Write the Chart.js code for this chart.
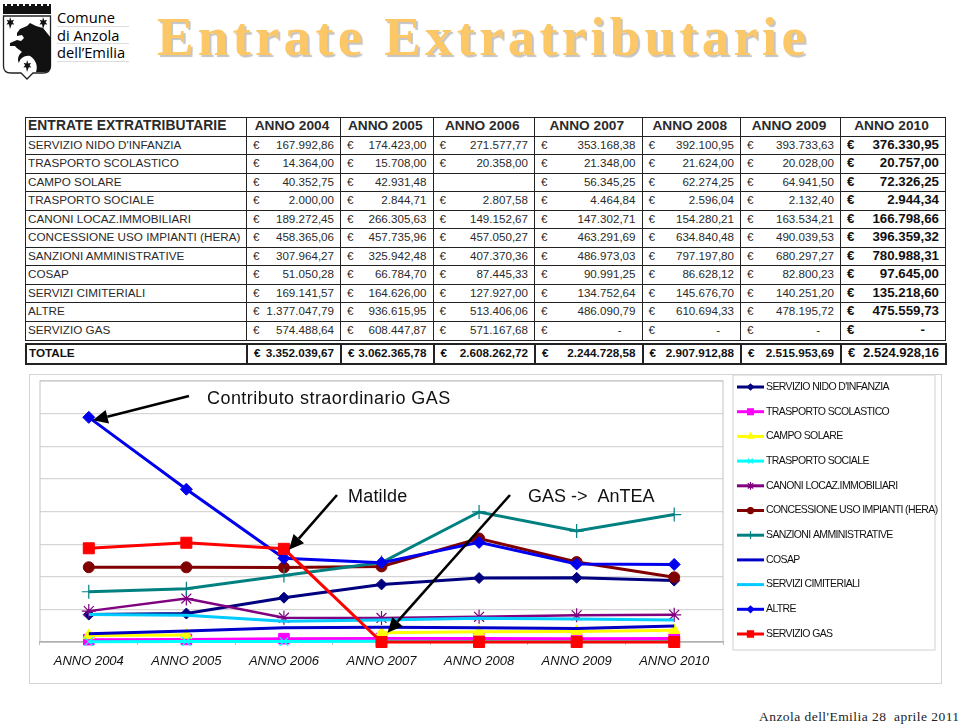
<!DOCTYPE html>
<html>
<head>
<meta charset="utf-8">
<title>Entrate Extratributarie</title>
<script src="https://cdn.jsdelivr.net/npm/chart.js@4/dist/chart.umd.js"></script>
<style>
  html, body { margin: 0; padding: 0; background: #fff; width: 960px; height: 726px; overflow: hidden; }
  body { position: relative; font-family: "Liberation Sans", Arial, sans-serif; color: #2a2a2a; }
  #logo { position: absolute; left: 0; top: 0; }
  #logoText { position: absolute; left: 57px; top: 9px; width: 72px; font: 500 14.7px/17px "Open Sans", "Noto Sans", sans-serif; color: #000; }
  #logoText div { border-bottom: 1px solid #ddd; height: 16.5px; white-space: nowrap; }
  #title { position: absolute; left: 157px; top: 5px; font: bold 55px "Liberation Serif", serif; letter-spacing: 4.15px; color: #fcc766; text-shadow: 2px 2px 1px #c4c4c4; white-space: nowrap; }
  table { position: absolute; left: 25px; width: 920px; table-layout: fixed; border-collapse: collapse; }
  #tab { top: 117px; }
  #tot { top: 343px; }
  td { border: 1.5px solid #222; padding: 0 6px 1.5px 3px; font-size: 11.6px; height: 18.55px; line-height: 16px; white-space: nowrap; overflow: hidden; text-align: right; box-sizing: border-box; }
  td:first-child { text-align: left; padding-left: 2px; font-size: 11.7px; }
  tr.head td { font-weight: bold; font-size: 13.7px; text-align: center; height: 18px; }
  tr.head td:first-child { text-align: left; font-size: 13.8px; letter-spacing: .1px; }
  td.y10 { font-weight: bold; font-size: 13.3px; color: #111; }
  td .e { float: left; padding-left: 3px; }
  td .dash { padding-right: 14px; }
  #tot td { font-weight: bold; font-size: 11.7px; height: 20px; border-width: 2px; color: #111; }
  #tot td.y10 { font-size: 13px; }
  #chartBox { position: absolute; left: 30px; top: 375px; width: 911px; height: 308px; outline: 1.5px solid #d4d4d4; }
  #foot { position: absolute; left: 759px; top: 709px; font: 13.5px "Liberation Serif", serif; letter-spacing: .45px; white-space: pre; color: #222; }
</style>
</head>
<body>

<svg id="logo" width="56" height="84" viewBox="0 0 56 84">
  <path d="M3 4h48v10H3z" fill="#111"/>
  <path d="M5 4h2v2H5zM11 4h2v2h-2zM17 4h2v2h-2zM23 4h2v2h-2zM29 4h2v2h-2zM35 4h2v2h-2zM41 4h2v2h-2zM47 4h2v2h-2z" fill="#fff"/>
  <path d="M3.5 16H50.5V66Q50.5 73 43 73H33L27 79L21 73H11Q3.5 73 3.5 66Z" fill="#fff" stroke="#222" stroke-width="1.3"/>
  <path d="M17 33L20 29L27 26L30 23L36 26L43 28L51 38V66Q50 72 45 72H36C38 66 36 60 30 56C25 55 20 58 19 63C17 60 18 55 22 52C20 50 16 48 15 46L10 46L10 43L17 40L21 41L24 38L22 35L17 36Z" fill="#111"/>
  <path d="M10 17l1.3 3.6 2.8-.8-1.5 2.5 1.7 2.1-2.6-.2L10 29l-1-4.8-2.6.2 1.7-2.1-1.5-2.5 2.8.8zM43 17l1.3 3.6 2.8-.8-1.5 2.5 1.7 2.1-2.6-.2L43 29l-1-4.8-2.6.2 1.7-2.1-1.5-2.5 2.8.8zM27 60l1.3 3.6 2.8-.8-1.5 2.5 1.7 2.1-2.6-.2L27 72l-1-4.8-2.6.2 1.7-2.1-1.5-2.5 2.8.8z" fill="#111"/>
</svg>
<div id="logoText"><div>Comune</div><div>di Anzola</div><div>dell’Emilia</div></div>

<div id="title">Entrate Extratributarie</div>

<table id="tab"></table>
<table id="tot"></table>

<div id="chartBox"><canvas id="myChart" width="911" height="308"></canvas></div>

<div id="foot">Anzola dell'Emilia 28  aprile 2011</div>

<script>
// data
const years = ['ANNO 2004', 'ANNO 2005', 'ANNO 2006', 'ANNO 2007', 'ANNO 2008', 'ANNO 2009', 'ANNO 2010'];

const nido = [167992.86, 174423.00, 271577.77, 353168.38, 392100.95, 393733.63, 376330.95];
const trasportoScol = [14364.00, 15708.00, 20358.00, 21348.00, 21624.00, 20028.00, 20757.00];
const campoSolare = [40352.75, 42931.48, null, 56345.25, 62274.25, 64941.50, 72326.25];
const trasportoSoc = [2000.00, 2844.71, 2807.58, 4464.84, 2596.04, 2132.40, 2944.34];
const canoni = [189272.45, 266305.63, 149152.67, 147302.71, 154280.21, 163534.21, 166798.66];
const concessione = [458365.06, 457735.96, 457050.27, 463291.69, 634840.48, 490039.53, 396359.32];
const sanzioni = [307964.27, 325942.48, 407370.36, 486973.03, 797197.80, 680297.27, 780988.31];
const cosap = [51050.28, 66784.70, 87445.33, 90991.25, 86628.12, 82800.23, 97645.00];
const cimiteriali = [169141.57, 164626.00, 127927.00, 134752.64, 145676.70, 140251.20, 135218.60];
const altre = [1377047.79, 936615.95, 513406.06, 486090.79, 610694.33, 478195.72, 475559.73];
const gas = [574488.64, 608447.87, 571167.68, 0, 0, 0, 0];
const totale = [3352039.67, 3062365.78, 2608262.72, 2244728.58, 2907912.88, 2515953.69, 2524928.16];

const seriesNames = ["SERVIZIO NIDO D'INFANZIA", 'TRASPORTO SCOLASTICO', 'CAMPO SOLARE', 'TRASPORTO SOCIALE',
  'CANONI LOCAZ.IMMOBILIARI', 'CONCESSIONE USO IMPIANTI (HERA)', 'SANZIONI AMMINISTRATIVE', 'COSAP',
  'SERVIZI CIMITERIALI', 'ALTRE', 'SERVIZIO GAS'];
const rows = [nido, trasportoScol, campoSolare, trasportoSoc, canoni, concessione, sanzioni, cosap, cimiteriali, altre, gas];

const lineColors = ['#000080', '#ff00ff', '#ffff00', '#00ffff', '#800080', '#800000', '#008080', '#0000c8', '#00ccff', '#0000ee', '#ff0000'];
const pointShapes = ['rectRot', 'rect', 'triangle', 'crossRot', 'star', 'circle', 'cross', 'circle', 'circle', 'rectRot', 'rect'];
const pointSizes = [5.5, 7.5, 6.5, 6, 7, 5.5, 7, 0, 0, 6, 7.8];
const lineWidths = [3, 3, 3, 3, 2.5, 3, 3, 3, 3, 3, 3];

// table
const colWidths = [221, 94, 92.5, 101.5, 107.5, 98.5, 100, 105];

function fmt(v) {
  if (v === 0) return '<span class="dash">-</span>';
  return v.toLocaleString('de-DE', { minimumFractionDigits: 2, maximumFractionDigits: 2 });
}
function cell(v, cls) {
  if (v === null) return '<td' + cls + '></td>';
  return '<td' + cls + '><span class="e">€</span>' + fmt(v) + '</td>';
}
function colgroup() {
  return '<colgroup>' + colWidths.map(w => '<col style="width:' + w + 'px">').join('') + '</colgroup>';
}

let html = colgroup() + '<tr class="head"><td>ENTRATE EXTRATRIBUTARIE</td>' + years.map(y => '<td>' + y + '</td>').join('') + '</tr>';
rows.forEach((r, i) => {
  html += '<tr><td>' + seriesNames[i] + '</td>' + r.map((v, j) => cell(v, j === 6 ? ' class="y10"' : '')).join('') + '</tr>';
});
document.getElementById('tab').innerHTML = html;
document.getElementById('tot').innerHTML = colgroup() + '<tr><td>TOTALE</td>' + totale.map((v, j) => cell(v, j === 6 ? ' class="y10"' : '')).join('') + '</tr>';

// annotations, canvas coordinates for text and arrow tails, arrow tips follow the data
const noteTexts = [
  { text: 'Contributo straordinario GAS', x: 177, y: 29, sp: '0.45px' },
  { text: 'Matilde', x: 318, y: 127, sp: '0.2px' },
  { text: 'GAS ->  AnTEA', x: 498, y: 127, sp: '0px' }
];
const noteArrows = [
  { from: [159, 21], cat: 0, val: altre[0], dx: 4, dy: 3 },
  { from: [307, 120], cat: 2, val: gas[2], dx: 5, dy: 1 },
  { from: [480, 120], cat: 3, val: campoSolare[3], dx: 6, dy: 0 }
];

const extras = {
  id: 'extras',
  beforeDatasetsDraw(chart) {
    const c = chart.ctx, a = chart.chartArea;
    c.save();
    c.strokeStyle = '#c4c4c4';
    c.lineWidth = 1;
    c.strokeRect(a.left, a.top, a.right - a.left, a.bottom - a.top);
    c.restore();
  },
  afterDraw(chart) {
    const c = chart.ctx, xs = chart.scales.x, ys = chart.scales.y;
    c.save();

    // arrows
    noteArrows.forEach(n => {
      const tx = xs.getPixelForValue(n.cat) + n.dx;
      const ty = ys.getPixelForValue(n.val) + n.dy;
      const ang = Math.atan2(ty - n.from[1], tx - n.from[0]);
      const len = 15, wid = 7;
      const bx = tx - len * Math.cos(ang), by = ty - len * Math.sin(ang);
      c.strokeStyle = '#000';
      c.fillStyle = '#000';
      c.lineWidth = 2.6;
      c.beginPath();
      c.moveTo(n.from[0], n.from[1]);
      c.lineTo(bx, by);
      c.stroke();
      c.beginPath();
      c.moveTo(tx, ty);
      c.lineTo(bx - wid * Math.sin(ang), by + wid * Math.cos(ang));
      c.lineTo(bx + wid * Math.sin(ang), by - wid * Math.cos(ang));
      c.closePath();
      c.fill();
    });

    // notes
    c.fillStyle = '#111';
    c.font = '18px "Liberation Sans"';
    c.textBaseline = 'alphabetic';
    noteTexts.forEach(n => {
      c.letterSpacing = n.sp;
      c.fillText(n.text, n.x, n.y);
    });

    // legend box
    const lx = 703, ltop = 0, lw = 202, lh = 275;
    c.strokeStyle = '#d0d0d0';
    c.lineWidth = 1;
    c.strokeRect(lx, ltop, lw, lh);
    c.font = '10.5px "Liberation Sans"';
    c.letterSpacing = '-0.62px';
    c.textBaseline = 'middle';
    chart.data.datasets.forEach((d, i) => {
      const ly = 12 + i * 24.7;
      c.strokeStyle = d.borderColor;
      c.lineWidth = 3;
      c.beginPath();
      c.moveTo(lx + 4, ly);
      c.lineTo(lx + 31, ly);
      c.stroke();
      if (d.pointRadius > 0) {
        c.fillStyle = d.borderColor;
        c.lineWidth = 1.2;
        Chart.helpers.drawPoint(c, { pointStyle: d.pointStyle, radius: d.pointRadius * 0.55, rotation: 0, borderWidth: 1.2 }, lx + 17.5, ly);
      }
      c.fillStyle = '#111';
      c.fillText(d.label, lx + 33, ly);
    });
    c.restore();
  }
};

const ctx = document.getElementById('myChart');
new Chart(ctx, {
  type: 'line',
  data: {
    labels: years,
    datasets: seriesNames.map((name, i) => ({
      label: name,
      data: rows[i],
      borderColor: lineColors[i],
      backgroundColor: lineColors[i],
      borderWidth: lineWidths[i],
      pointStyle: pointShapes[i],
      pointRadius: pointSizes[i],
      pointBorderWidth: (pointShapes[i] === 'cross' || pointShapes[i] === 'star' || pointShapes[i] === 'crossRot') ? 1.2 : 1,
      pointBorderColor: lineColors[i],
      pointBackgroundColor: lineColors[i],
      tension: 0,
      spanGaps: false,
      clip: false,
      order: seriesNames.length - i
    }))
  },
  options: {
    responsive: false,
    animation: false,
    layout: { autoPadding: false, padding: { left: 10, top: 6, right: 218, bottom: 0 } },
    plugins: { legend: { display: false }, tooltip: { enabled: false } },
    scales: {
      x: {
        offset: true,
        afterFit(scale) { scale.height = 41; },
        grid: { drawOnChartArea: false, tickLength: 3, color: '#bbb', offset: true },
        border: { color: '#9a9a9a', width: 1.5 },
        ticks: { color: '#111', font: { family: '"Liberation Sans"', size: 13, style: 'italic' }, padding: 9, maxRotation: 0, autoSkip: false }
      },
      y: {
        min: 0,
        max: 1600000,
        afterFit(scale) { scale.width = 0; },
        grid: { color: '#d6d6d6', lineWidth: 1.2, drawTicks: false },
        border: { display: false },
        ticks: { display: false, stepSize: 200000 }
      }
    }
  },
  plugins: [extras]
});
</script>
</body>
</html>
